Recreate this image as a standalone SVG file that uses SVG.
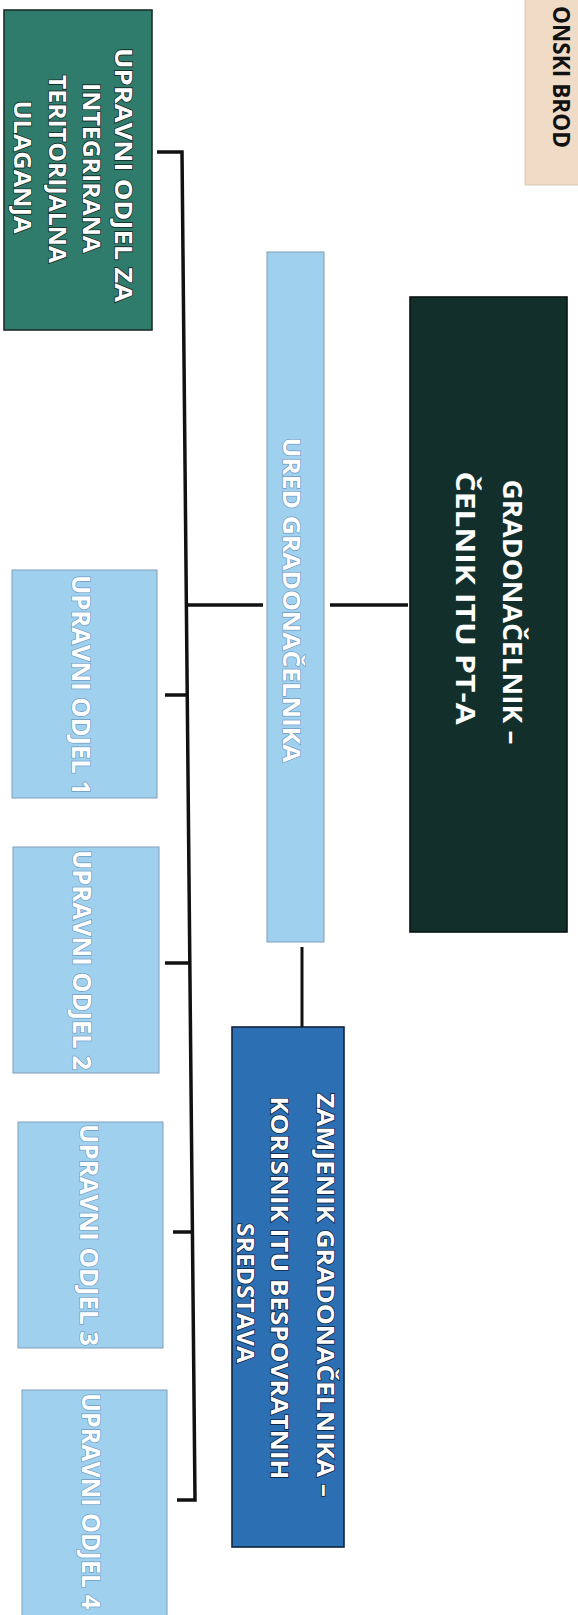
<svg xmlns="http://www.w3.org/2000/svg" width="578" height="1615" viewBox="0 0 578 1615">
<style>
  .t { font-family: "Open Sans", "Liberation Sans", sans-serif; font-weight: 700; text-anchor: middle; }
  .w { fill: #ffffff; }
  .gt { fill: #ffffff; stroke: #16302a; stroke-width: 1.6; paint-order: stroke; }
  .lt { fill: #ffffff; stroke: #6f9cc4; stroke-width: 1.4; paint-order: stroke; }
  .bt { fill: #ffffff; stroke: #0e2746; stroke-width: 1.6; paint-order: stroke; }
  .lb { fill: #9fd0ee; stroke: #7f9fb8; stroke-width: 1; }
  .conn { fill: none; stroke: #111111; stroke-width: 3.5; stroke-linejoin: miter; }
</style>
<rect width="578" height="1615" fill="#ffffff"/>

<g id="node-slavonski-brod">
  <rect x="525" y="-2" width="60" height="187" fill="#f0dcc6" stroke="#d9c6b0" stroke-width="1"/>
  <text class="t" fill="#111111" font-size="23" transform="translate(553,77) rotate(90)" textLength="142" lengthAdjust="spacingAndGlyphs">ONSKI BROD</text>
</g>

<g id="node-upravni-odjel-itu">
  <rect x="4" y="10" width="148" height="320" fill="#2f7c6c" stroke="#1c2f2a" stroke-width="1.6"/>
  <text class="t gt" font-size="23" transform="translate(115,175) rotate(90)" textLength="254" lengthAdjust="spacingAndGlyphs">UPRAVNI ODJEL ZA</text>
  <text class="t gt" font-size="23" transform="translate(83,168) rotate(90)" textLength="170" lengthAdjust="spacingAndGlyphs">INTEGRIRANA</text>
  <text class="t gt" font-size="23" transform="translate(49,169) rotate(90)" textLength="188" lengthAdjust="spacingAndGlyphs">TERITORIJALNA</text>
  <text class="t gt" font-size="23" transform="translate(14,167) rotate(90)" textLength="133" lengthAdjust="spacingAndGlyphs">ULAGANJA</text>
</g>

<g id="node-gradonacelnik">
  <rect x="410" y="297" width="157" height="635" fill="#132f2c" stroke="#0a1413" stroke-width="1.6"/>
  <text class="t w" font-size="26" transform="translate(503,612) rotate(90)" textLength="265" lengthAdjust="spacingAndGlyphs">GRADONAČELNIK –</text>
  <text class="t w" font-size="26" transform="translate(456,598) rotate(90)" textLength="253" lengthAdjust="spacingAndGlyphs">ČELNIK ITU PT-A</text>
</g>

<g id="node-ured-gradonacelnika">
  <rect class="lb" x="267" y="252" width="57" height="690"/>
  <text class="t lt" font-size="24" transform="translate(283,600) rotate(90)" textLength="325" lengthAdjust="spacingAndGlyphs">URED GRADONAČELNIKA</text>
</g>

<g id="node-zamjenik">
  <rect x="232" y="1027" width="112" height="520" fill="#2d6fb3" stroke="#10243d" stroke-width="1.6"/>
  <text class="t bt" font-size="24" transform="translate(317,1295) rotate(90)" textLength="404" lengthAdjust="spacingAndGlyphs">ZAMJENIK GRADONAČELNIKA –</text>
  <text class="t bt" font-size="24" transform="translate(271,1288) rotate(90)" textLength="383" lengthAdjust="spacingAndGlyphs">KORISNIK ITU BESPOVRATNIH</text>
  <text class="t bt" font-size="24" transform="translate(237,1293) rotate(90)" textLength="140" lengthAdjust="spacingAndGlyphs">SREDSTAVA</text>
</g>

<g id="node-upravni-odjel-1">
  <rect class="lb" x="12" y="570" width="145" height="228"/>
  <text class="t lt" font-size="25" transform="translate(72,685) rotate(90)" textLength="220" lengthAdjust="spacingAndGlyphs">UPRAVNI ODJEL 1</text>
</g>
<g id="node-upravni-odjel-2">
  <rect class="lb" x="13" y="847" width="146" height="226"/>
  <text class="t lt" font-size="25" transform="translate(73,960) rotate(90)" textLength="220" lengthAdjust="spacingAndGlyphs">UPRAVNI ODJEL 2</text>
</g>
<g id="node-upravni-odjel-3">
  <rect class="lb" x="18" y="1122" width="145" height="226"/>
  <text class="t lt" font-size="25" transform="translate(80,1235) rotate(90)" textLength="222" lengthAdjust="spacingAndGlyphs">UPRAVNI ODJEL 3</text>
</g>
<g id="node-upravni-odjel-4">
  <rect class="lb" x="22" y="1390" width="145" height="230"/>
  <text class="t lt" font-size="25" transform="translate(82,1501) rotate(90)" textLength="216" lengthAdjust="spacingAndGlyphs">UPRAVNI ODJEL 4</text>
</g>

<g id="connectors">
  <path class="conn" d="M157,152 H182 L195,1500 H177"/>
  <path class="conn" d="M186.4,605 H263"/>
  <path class="conn" d="M330,605 H408"/>
  <path class="conn" d="M165,695 H187.3"/>
  <path class="conn" d="M165,963 H189.9"/>
  <path class="conn" d="M173,1232 H192.4"/>
  <path class="conn" d="M302,947 V1027" style="stroke-width:3"/>
</g>
</svg>
